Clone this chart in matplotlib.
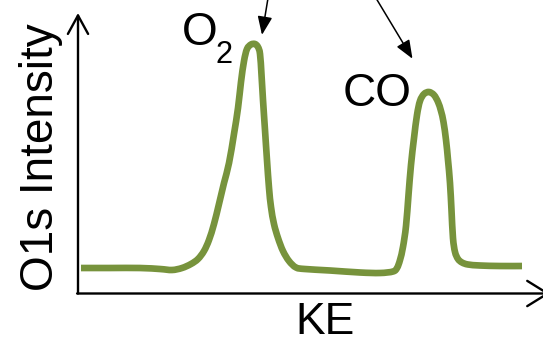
import matplotlib
matplotlib.use("Agg")
import matplotlib.pyplot as plt
import numpy as np
from matplotlib.path import Path
from matplotlib.patches import PathPatch

# O1s spectrum trace (KE and intensity in arbitrary units, 0-100 on each axis)
ke = [0.66, 7.08, 13.72, 18.14, 20.80, 23.01, 25.00, 26.55, 27.88, 28.98,
      30.09, 31.19, 32.30, 33.41, 34.51, 35.40, 36.06, 36.73, 37.39, 38.27,
      39.16, 39.82, 40.27, 40.60, 40.93, 41.37, 41.81, 42.26, 42.70, 43.36,
      44.25, 45.35, 46.68, 48.23, 50.22, 55.75, 62.39, 66.81, 69.69, 70.58,
      71.24, 71.90, 72.57, 73.12, 73.67, 74.34, 75.00, 75.66, 76.55, 77.65,
      78.76, 79.65, 80.31, 80.86, 81.42, 81.86, 82.30, 82.63, 82.96, 83.41,
      84.07, 84.96, 86.28, 88.94, 93.36, 98.23]
intensity = [9.09, 9.09, 9.09, 8.73, 8.38, 9.09, 10.52, 12.30, 15.15, 19.07,
             24.78, 31.91, 39.39, 46.52, 56.86, 66.13, 75.40, 82.89, 87.17, 88.77,
             88.95, 87.88, 85.38, 77.90, 68.98, 58.29, 47.59, 37.61, 30.84, 24.78,
             19.79, 15.15, 11.59, 9.27, 8.73, 8.20, 7.49, 7.31, 7.84, 9.09,
             11.94, 16.58, 24.06, 35.12, 45.81, 55.44, 63.64, 68.63, 71.12, 71.84,
             70.77, 68.27, 65.06, 61.14, 54.72, 47.59, 39.39, 29.77, 19.79, 14.80,
             12.30, 11.05, 10.34, 9.98, 9.80, 9.80]

peak_labels = ["O", "CO"]
x_label = "KE"
y_label = "O1s Intensity"

W, H = 543, 344
fig = plt.figure(figsize=(W / 100, H / 100), dpi=100)
fig.patch.set_facecolor("white")
plt.rcParams["font.family"] = ["Liberation Sans", "DejaVu Sans"]


def fx(px):
    return px / W


def fy(py):
    return 1 - py / H


def smooth_path(xs, ys):
    """Catmull-Rom curve through the points, expressed as cubic Bezier segments."""
    pts = np.column_stack([xs, ys])
    n = len(pts)
    verts = [pts[0]]
    codes = [Path.MOVETO]
    for i in range(n - 1):
        p0 = pts[max(i - 1, 0)]
        p1 = pts[i]
        p2 = pts[i + 1]
        p3 = pts[min(i + 2, n - 1)]
        c1 = p1 + (p2 - p0) / 6.0
        c2 = p2 - (p3 - p1) / 6.0
        verts += [c1, c2, p2]
        codes += [Path.CURVE4] * 3
    return Path(verts, codes)


ax = fig.add_axes([fx(78), fy(293.5), 452 / W, 280.5 / H])
ax.set_xlim(0, 100)
ax.set_ylim(0, 100)
ax.axis("off")

# spectrum
ax.add_patch(PathPatch(smooth_path(ke, intensity), facecolor="none",
                       edgecolor="#77933C", lw=4.8, joinstyle="round",
                       capstyle="butt", zorder=3))

# axes drawn as open-headed arrows
axis_props = dict(color="black", lw=1.7, shrinkA=0, shrinkB=0)
ax.annotate("", xy=(0, 1), xytext=(0, 0), xycoords="axes fraction",
            arrowprops=dict(arrowstyle="->,head_length=0.95,head_width=0.52",
                            mutation_scale=14, **axis_props),
            annotation_clip=False)
ax.annotate("", xy=(1.044, 0), xytext=(-0.002, 0), xycoords="axes fraction",
            arrowprops=dict(arrowstyle="->,head_length=1.05,head_width=0.65",
                            mutation_scale=14, **axis_props),
            annotation_clip=False)

# pointer arrows coming in from above the peaks
ptr_props = dict(arrowstyle="-|>,head_length=0.8,head_width=0.32",
                 mutation_scale=14, color="black", lw=1.1, shrinkA=0, shrinkB=0)
ax.annotate("", xy=(40.7, 92.2), xytext=(42.7, 111.8),
            arrowprops=ptr_props, annotation_clip=False)
ax.annotate("", xy=(74.0, 83.7), xytext=(63.5, 111.8),
            arrowprops=ptr_props, annotation_clip=False)

fs = 33
# O2 label
fig.text(fx(199.5), fy(45), peak_labels[0], fontsize=fs, ha="center", va="baseline")
fig.text(fx(215.5), fy(63), "2", fontsize=fs * 0.67, ha="left", va="baseline")
# CO label
fig.text(fx(377.5), fy(106.5), peak_labels[1], fontsize=fs, ha="center", va="baseline")

# axis titles
fig.text(fx(325), fy(334.5), x_label, fontsize=32, ha="center", va="baseline")
fig.text(fx(53), fy(157), y_label, fontsize=fs, ha="center", va="baseline",
         rotation=90, rotation_mode="anchor")

fig.savefig("out.png", dpi=100, facecolor="white")
